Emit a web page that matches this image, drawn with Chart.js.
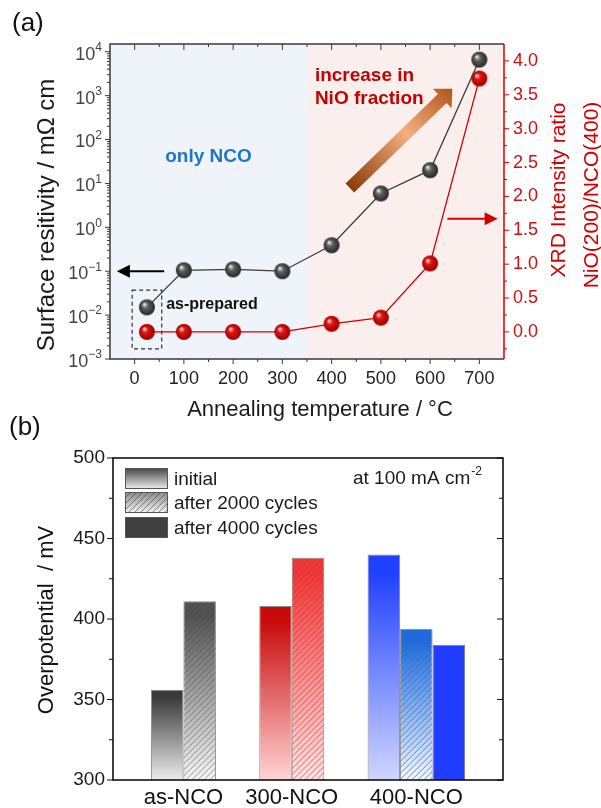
<!DOCTYPE html>
<html><head><meta charset="utf-8">
<script src="https://cdn.jsdelivr.net/npm/chart.js@4.4.1/dist/chart.umd.min.js"></script>
<style>
html,body{margin:0;padding:0;background:#fff;}
body{width:601px;height:808px;position:relative;overflow:hidden;}
#ca{position:absolute;left:0;top:0;}
#cb{position:absolute;left:0;top:410px;}
</style></head><body>
<canvas id="ca" width="601" height="425"></canvas>
<canvas id="cb" width="601" height="398"></canvas>
<script>
// ================= DATA (a) =================
const temperatures = [25, 100, 200, 300, 400, 500, 600, 700];
const resistivity  = [0.015, 0.105, 0.11, 0.1, 0.39, 5.9, 20, 6600];
const xrdRatio     = [0, 0, 0, 0, 0.12, 0.21, 1.01, 3.74];
const tempTicks      = [0, 100, 200, 300, 400, 500, 600, 700];
const tempMinorTicks = [50, 150, 250, 350, 450, 550, 650];
const logTickExponents = [-3, -2, -1, 0, 1, 2, 3, 4];
const ratioTicks      = [0, 0.5, 1.0, 1.5, 2.0, 2.5, 3.0, 3.5, 4.0];
const ratioMinorTicks = [-0.25, 0.25, 0.75, 1.25, 1.75, 2.25, 2.75, 3.25, 3.75];
const phaseBoundary = 350;

// ================= DATA (b) =================
const samples     = ['as-NCO', '300-NCO', '400-NCO'];
const initialOP   = [356, 408, 440];
const after2000OP = [411, 438, 394];
const after4000OP = [null, null, 384];
const opTicks      = [300, 350, 400, 450, 500];
const opMinorTicks = [325, 375, 425, 475];
const legendLabels = ['initial', 'after 2000 cycles', 'after 4000 cycles'];

const FONT = '"Liberation Sans", Arial, sans-serif';
Chart.defaults.font.family = FONT;

// ---------- sphere point images ----------
function sphere(r, c0, c1, c2) {
  const s = Math.ceil(r * 2 + 2);
  const cv = document.createElement('canvas');
  cv.width = s; cv.height = s;
  const g = cv.getContext('2d');
  const cx = s / 2, cy = s / 2;
  const gr = g.createRadialGradient(cx - r * 0.35, cy - r * 0.4, r * 0.05, cx, cy, r);
  gr.addColorStop(0, c0); gr.addColorStop(0.35, c1); gr.addColorStop(1, c2);
  g.fillStyle = gr; g.beginPath(); g.arc(cx, cy, r, 0, Math.PI * 2); g.fill();
  return cv;
}
const blackBall = sphere(8, '#eeeeee', '#606060', '#262626');
const redBall = sphere(8, '#ffd6d6', '#e01414', '#9c0000');

function arrowLine(ctx, x0, y0, x1, y1, color, headLen, headHalf) {
  const ang = Math.atan2(y1 - y0, x1 - x0);
  const L = Math.hypot(x1 - x0, y1 - y0);
  ctx.save();
  ctx.translate(x0, y0); ctx.rotate(ang);
  ctx.strokeStyle = color; ctx.fillStyle = color; ctx.lineWidth = 2;
  ctx.beginPath(); ctx.moveTo(0, 0); ctx.lineTo(L - headLen + 1, 0); ctx.stroke();
  ctx.beginPath(); ctx.moveTo(L, 0); ctx.lineTo(L - headLen, -headHalf); ctx.lineTo(L - headLen, headHalf); ctx.closePath(); ctx.fill();
  ctx.restore();
}

// ---------- plugin (a) ----------
const plotA = {
  id: 'plotA',
  beforeDatasetsDraw(chart) {
    const { ctx, chartArea: a, scales: { x } } = chart;
    const xb = x.getPixelForValue(phaseBoundary);
    ctx.save();
    ctx.fillStyle = '#eff3fa';
    ctx.fillRect(a.left, a.top, xb - a.left, a.bottom - a.top);
    ctx.fillStyle = '#fbefee';
    ctx.fillRect(xb, a.top, a.right - xb, a.bottom - a.top);
    ctx.restore();
  },
  afterDatasetsDraw(chart) {
    const { ctx, chartArea: a, scales: { x, y, y1 } } = chart;
    ctx.save();
    // frame
    ctx.lineWidth = 1.5;
    ctx.strokeStyle = '#3a3a3a';
    ctx.beginPath();
    ctx.moveTo(a.right, a.top); ctx.lineTo(a.left, a.top); ctx.lineTo(a.left, a.bottom); ctx.lineTo(a.right, a.bottom);
    ctx.stroke();
    // ticks left (log)
    ctx.lineWidth = 1;
    ctx.beginPath();
    logTickExponents.forEach(e => {
      const py = y.getPixelForValue(Math.pow(10, e));
      ctx.moveTo(a.left - 5, py); ctx.lineTo(a.left, py);
      for (let k = 2; k <= 9; k++) {
        const v = k * Math.pow(10, e);
        if (v < y.max) { const pm = y.getPixelForValue(v); ctx.moveTo(a.left - 3, pm); ctx.lineTo(a.left, pm); }
      }
    });
    // bottom & top
    tempTicks.forEach(t => {
      const px = x.getPixelForValue(t);
      ctx.moveTo(px, a.bottom); ctx.lineTo(px, a.bottom + 5);
      ctx.moveTo(px, a.top); ctx.lineTo(px, a.top + 6);
    });
    tempMinorTicks.forEach(t => {
      const px = x.getPixelForValue(t);
      ctx.moveTo(px, a.bottom); ctx.lineTo(px, a.bottom + 3);
      ctx.moveTo(px, a.top); ctx.lineTo(px, a.top + 3);
    });
    ctx.stroke();
    // right axis
    ctx.strokeStyle = '#d40000';
    ctx.lineWidth = 1.5;
    ctx.beginPath(); ctx.moveTo(a.right, a.top); ctx.lineTo(a.right, a.bottom); ctx.stroke();
    ctx.lineWidth = 1;
    ctx.beginPath();
    ratioTicks.forEach(v => { const py = y1.getPixelForValue(v); ctx.moveTo(a.right, py); ctx.lineTo(a.right + 5, py); });
    ratioMinorTicks.forEach(v => { const py = y1.getPixelForValue(v); ctx.moveTo(a.right, py); ctx.lineTo(a.right + 3, py); });
    ctx.stroke();

    // log labels with superscripts
    ctx.fillStyle = '#444';
    ctx.textBaseline = 'middle';
    logTickExponents.forEach(e => {
      const py = y.getPixelForValue(Math.pow(10, e));
      ctx.font = '12px ' + FONT;
      const sup = String(e).replace('-', '\u2212');
      const sw = ctx.measureText(sup).width;
      ctx.textAlign = 'right';
      ctx.fillText(sup, a.left - 8, py - 4);
      ctx.font = '18px ' + FONT;
      ctx.fillText('10', a.left - 8 - sw, py + 3);
    });

    // dashed box around as-prepared
    const bx0 = x.getPixelForValue(-5), bx1 = x.getPixelForValue(55);
    const by0 = y.getPixelForValue(0.037), by1 = y.getPixelForValue(0.0017);
    ctx.setLineDash([4, 3]);
    ctx.strokeStyle = '#333'; ctx.lineWidth = 1.2;
    ctx.strokeRect(bx0, by0, bx1 - bx0, by1 - by0);
    ctx.setLineDash([]);

    // arrows
    arrowLine(ctx, x.getPixelForValue(60), y.getPixelForValue(0.1), x.getPixelForValue(-36), y.getPixelForValue(0.1), '#000', 13, 6.5);
    arrowLine(ctx, x.getPixelForValue(635), y1.getPixelForValue(1.67), x.getPixelForValue(737), y1.getPixelForValue(1.67), '#d40000', 13, 6.5);

    // orange big arrow
    const tx = x.getPixelForValue(437), ty = y1.getPixelForValue(2.125);
    const hx = x.getPixelForValue(645), hy = y1.getPixelForValue(3.59);
    const ang = Math.atan2(hy - ty, hx - tx), L = Math.hypot(hx - tx, hy - ty);
    ctx.save();
    ctx.translate(tx, ty); ctx.rotate(ang);
    const og = ctx.createLinearGradient(0, 0, L, 0);
    og.addColorStop(0, '#8a3c08'); og.addColorStop(0.55, '#f4ae80'); og.addColorStop(1, '#b0561a');
    ctx.fillStyle = og;
    const hl = 14, sh = 6.2, hh = 13.5;
    ctx.beginPath();
    ctx.moveTo(0, -sh); ctx.lineTo(L - hl, -sh); ctx.lineTo(L - hl, -hh); ctx.lineTo(L, 0);
    ctx.lineTo(L - hl, hh); ctx.lineTo(L - hl, sh); ctx.lineTo(0, sh); ctx.closePath(); ctx.fill();
    ctx.restore();

    // texts
    ctx.textBaseline = 'middle';
    ctx.textAlign = 'center';
    ctx.fillStyle = '#1f75c8';
    ctx.font = 'bold 19px ' + FONT;
    ctx.fillText('only NCO', x.getPixelForValue(150), y.getPixelForValue(40));
    ctx.textAlign = 'left';
    ctx.fillStyle = '#c40000';
    ctx.fillText('increase in', x.getPixelForValue(366), y1.getPixelForValue(3.78));
    ctx.fillText('NiO fraction', x.getPixelForValue(366), y1.getPixelForValue(3.44));
    ctx.fillStyle = '#111';
    ctx.font = 'bold 16px ' + FONT;
    ctx.fillText('as-prepared', x.getPixelForValue(64), y.getPixelForValue(0.017));

    // panel label & titles
    ctx.fillStyle = '#111';
    ctx.font = '26px ' + FONT;
    ctx.fillText('(a)', 12, 24);
    ctx.textAlign = 'center';
    ctx.font = '22px ' + FONT;
    ctx.fillStyle = '#1a1a1a';
    ctx.fillText('Annealing temperature / \u00B0C', 320, 410);
    ctx.save();
    ctx.translate(47, 215); ctx.rotate(-Math.PI / 2);
    ctx.font = '24px ' + FONT;
    ctx.fillText('Surface resitivity / m\u03A9 cm', 0, 0);
    ctx.restore();
    ctx.fillStyle = '#d00000';
    ctx.font = '21px ' + FONT;
    ctx.save(); ctx.translate(559, 190); ctx.rotate(-Math.PI / 2); ctx.fillText('XRD Intensity ratio', 0, 0); ctx.restore();
    ctx.save(); ctx.translate(592, 195); ctx.rotate(-Math.PI / 2); ctx.fillText('NiO(200)/NCO(400)', 0, 0); ctx.restore();
    ctx.restore();
  }
};

new Chart(document.getElementById('ca'), {
  type: 'line',
  data: {
    datasets: [
      {
        label: 'Surface resistivity',
        data: temperatures.map((t, i) => ({ x: t, y: resistivity[i] })),
        yAxisID: 'y',
        borderColor: '#3a3a3a', borderWidth: 1.3,
        pointStyle: blackBall, pointRadius: 8,
        tension: 0
      },
      {
        label: 'XRD ratio',
        data: temperatures.map((t, i) => ({ x: t, y: xrdRatio[i] })),
        yAxisID: 'y1',
        borderColor: '#d40000', borderWidth: 1.3,
        pointStyle: redBall, pointRadius: 8,
        tension: 0
      }
    ]
  },
  options: {
    responsive: false, animation: false, devicePixelRatio: 1,
    layout: { padding: { top: 44, left: 0, right: 0, bottom: 0 } },
    plugins: { legend: { display: false }, tooltip: { enabled: false } },
    scales: {
      x: {
        type: 'linear', min: -50, max: 750, position: 'bottom',
        grid: { display: false, drawTicks: false }, border: { display: false },
        afterBuildTicks(s) { s.ticks = tempTicks.map(v => ({ value: v })); },
        ticks: { autoSkip: false, maxRotation: 0, color: '#222', font: { size: 18 }, padding: 9 },
        afterFit(s) { s.height = 66; }
      },
      y: {
        type: 'logarithmic', min: 0.001, max: 15000, position: 'left',
        grid: { display: false, drawTicks: false }, border: { display: false },
        ticks: { display: false },
        afterFit(s) { s.width = 110; }
      },
      y1: {
        type: 'linear', min: -0.4, max: 4.25, position: 'right',
        grid: { display: false, drawTicks: false }, border: { display: false },
        afterBuildTicks(s) { s.ticks = ratioTicks.map(v => ({ value: v })); },
        ticks: { autoSkip: false, color: '#d01010', font: { size: 18 }, padding: 9, callback: v => Number(v).toFixed(1) },
        afterFit(s) { s.width = 97; }
      }
    }
  },
  plugins: [plotA]
});

// ================= chart (b) =================
const barSlots = 3, groupFraction = 0.9;
const seriesB = [initialOP, after2000OP, after4000OP];
const slotOffset = s => (s - (barSlots - 1) / 2) * groupFraction / barSlots;
const labelPositions = samples.map((_, i) => {
  const present = seriesB.map((arr, s) => (arr[i] != null ? s : -1)).filter(s => s >= 0);
  return i + 1 + present.reduce((acc, s) => acc + slotOffset(s), 0) / present.length;
});

const initialTop = ['#3a3a3a', '#c80a0a', '#2040ff'];
const initialBot = ['#ececec', '#ffd4d4', '#cfd6ff'];
const c2000Top = ['#525252', '#ee3a3a', '#1f6ad8'];
const c2000Bot = ['#f6f6f6', '#ffe8e8', '#f4f8ff'];
const c4000Top = ['#404040', '#404040', '#1f3cff'];
const c4000Bot = ['#404040', '#404040', '#1f3cff'];
const hatchColors = ['rgba(70,70,70,0.5)', 'rgba(225,40,40,0.7)', 'rgba(40,110,230,0.75)'];

function barGradient(tops, bots) {
  return (ctx) => {
    const chart = ctx.chart, area = chart.chartArea;
    const i = ctx.dataIndex;
    if (!area || ctx.type !== 'data' || !ctx.raw || ctx.raw.y == null) return tops[i || 0];
    const yTop = chart.scales.y.getPixelForValue(ctx.raw.y);
    const g = chart.ctx.createLinearGradient(0, yTop, 0, area.bottom);
    g.addColorStop(0, tops[i]); g.addColorStop(0.08, tops[i]); g.addColorStop(1, bots[i]);
    return g;
  };
}

function hatchRect(ctx, left, top, right, bottom, color) {
  ctx.save();
  ctx.beginPath(); ctx.rect(left, top, right - left, bottom - top); ctx.clip();
  ctx.strokeStyle = color; ctx.lineWidth = 1;
  const h = bottom - top;
  ctx.beginPath();
  for (let c = left - h; c < right + 6; c += 6) { ctx.moveTo(c, bottom); ctx.lineTo(c + h, top); }
  ctx.stroke();
  ctx.restore();
}

const plotB = {
  id: 'plotB',
  afterDatasetsDraw(chart) {
    const { ctx, chartArea: a, scales: { y } } = chart;
    // hatch overlay on the 2000-cycle bars
    chart.data.datasets.forEach((ds, di) => {
      if (!ds.hatched) return;
      chart.getDatasetMeta(di).data.forEach((el, i) => {
        if (ds.data[i].y == null) return;
        const p = el.getProps(['x', 'y', 'base', 'width'], true);
        const bottom = Math.min(p.base, a.bottom);
        hatchRect(ctx, p.x - p.width / 2 + 0.5, p.y + 0.5, p.x + p.width / 2 - 0.5, bottom, hatchColors[i]);
      });
    });
    ctx.save();
    // frame
    ctx.strokeStyle = '#111'; ctx.lineWidth = 1.6;
    ctx.strokeRect(a.left, a.top, a.right - a.left, a.bottom - a.top);
    ctx.lineWidth = 1.2;
    ctx.beginPath();
    opTicks.forEach(v => {
      const py = y.getPixelForValue(v);
      ctx.moveTo(a.left - 6, py); ctx.lineTo(a.left, py);
      ctx.moveTo(a.right - 6, py); ctx.lineTo(a.right, py);
    });
    opMinorTicks.forEach(v => {
      const py = y.getPixelForValue(v);
      ctx.moveTo(a.left - 4, py); ctx.lineTo(a.left, py);
      ctx.moveTo(a.right - 4, py); ctx.lineTo(a.right, py);
    });
    ctx.stroke();

    // legend
    const lx = a.left + 12, bw = 43, bh = 21;
    const rows = [a.top + 10, a.top + 34, a.top + 59];
    rows.forEach((ry, k) => {
      let fill;
      if (k === 0) { fill = ctx.createLinearGradient(0, ry, 0, ry + bh); fill.addColorStop(0, '#444'); fill.addColorStop(1, '#eeeeee'); }
      else if (k === 1) { fill = ctx.createLinearGradient(0, ry, 0, ry + bh); fill.addColorStop(0, '#8a8a8a'); fill.addColorStop(1, '#f2f2f2'); }
      else fill = '#404040';
      ctx.fillStyle = fill;
      ctx.fillRect(lx, ry, bw, bh);
      if (k === 1) hatchRect(ctx, lx, ry, lx + bw, ry + bh, 'rgba(60,60,60,0.55)');
      ctx.strokeStyle = '#555'; ctx.lineWidth = 1;
      ctx.strokeRect(lx + 0.5, ry + 0.5, bw - 1, bh - 1);
      ctx.fillStyle = '#1a1a1a';
      ctx.font = '19px ' + FONT;
      ctx.textAlign = 'left'; ctx.textBaseline = 'middle';
      ctx.fillText(legendLabels[k], lx + bw + 6, ry + bh / 2 + 1);
    });

    // current density note
    ctx.font = '19px ' + FONT;
    ctx.textAlign = 'left';
    const note = 'at 100 mA cm';
    const nx = 353, ny = a.top + 21;
    ctx.fillText(note, nx, ny);
    const nw = ctx.measureText(note).width;
    ctx.font = '12px ' + FONT;
    ctx.fillText('-2', nx + nw + 1, ny - 7);

    // panel label & y title
    ctx.font = '26px ' + FONT;
    ctx.fillStyle = '#111';
    ctx.fillText('(b)', 9, 18);
    ctx.save();
    ctx.translate(47, 210); ctx.rotate(-Math.PI / 2);
    ctx.textAlign = 'center';
    ctx.font = '22px ' + FONT;
    ctx.fillText('Overpotential  / mV', 0, 0);
    ctx.restore();
    ctx.restore();
  }
};

new Chart(document.getElementById('cb'), {
  type: 'bar',
  data: {
    datasets: [
      {
        label: legendLabels[0],
        data: samples.map((_, i) => ({ x: i + 1, y: initialOP[i] })),
        backgroundColor: barGradient(initialTop, initialBot),
        borderColor: '#8a8a8a', borderWidth: 1,
        categoryPercentage: groupFraction, barPercentage: 1.0
      },
      {
        label: legendLabels[1],
        hatched: true,
        data: samples.map((_, i) => ({ x: i + 1, y: after2000OP[i] })),
        backgroundColor: barGradient(c2000Top, c2000Bot),
        borderColor: '#8a8a8a', borderWidth: 1,
        categoryPercentage: groupFraction, barPercentage: 1.0
      },
      {
        label: legendLabels[2],
        data: samples.map((_, i) => ({ x: i + 1, y: after4000OP[i] })),
        backgroundColor: barGradient(c4000Top, c4000Bot),
        borderColor: '#7a7a9a', borderWidth: 1,
        categoryPercentage: groupFraction, barPercentage: 1.0
      }
    ]
  },
  options: {
    responsive: false, animation: false, devicePixelRatio: 1,
    layout: { padding: { top: 48, left: 0, right: 98, bottom: 0 } },
    plugins: { legend: { display: false }, tooltip: { enabled: false } },
    scales: {
      x: {
        type: 'linear', min: 0.2, max: 3.8, offset: false,
        grid: { display: false, drawTicks: false }, border: { display: false },
        afterBuildTicks(s) { s.ticks = labelPositions.map(v => ({ value: v })); },
        ticks: { autoSkip: false, maxRotation: 0, color: '#111', font: { size: 22 }, padding: 5, callback: (v, i) => samples[i] },
        afterFit(s) { s.height = 28; }
      },
      y: {
        min: 300, max: 500,
        grid: { display: false, drawTicks: false }, border: { display: false },
        ticks: { stepSize: 50, color: '#1a1a1a', font: { size: 19 }, padding: 8 },
        afterFit(s) { s.width = 113; }
      }
    }
  },
  plugins: [plotB]
});
</script>
</body></html>
